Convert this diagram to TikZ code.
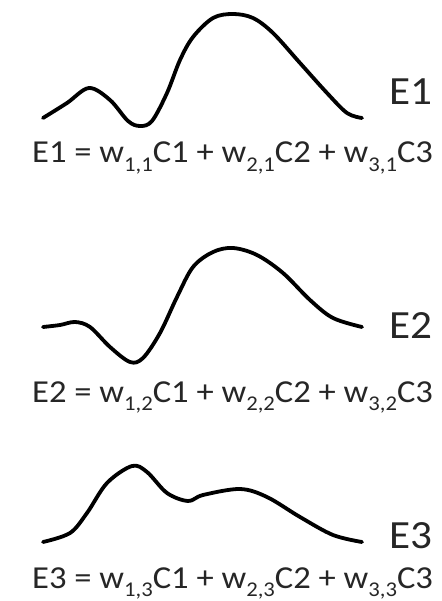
\documentclass[tikz,border=0pt]{standalone}
\usepackage{fontspec}
\setmainfont[FakeStretch=1.08]{Carlito}
\definecolor{txt}{HTML}{262626}
\newcommand{\wsub}[1]{\raisebox{-0.28em}{\fontsize{21}{21}\selectfont #1}}
\begin{document}
\begin{tikzpicture}[x=1pt,y=-1pt,
  curve/.style={line width=3.8pt, line cap=round, line join=round, black},
  eqn/.style={inner sep=0pt, anchor=base west, text=txt, font=\fontsize{32}{32}\selectfont},
  lbl/.style={inner sep=0pt, anchor=base west, text=txt, font=\fontsize{40}{40}\selectfont}]
\useasboundingbox (0,0) rectangle (441,601);
% curves
\draw[curve] plot[smooth, tension=0.55] coordinates {(43,118) (67,103) (89,88) (110,100) (128,121) (140,126) (152,121) (167,93) (180,60) (193,37) (213,18) (233,14) (253,18) (273,33) (300,63) (327,93) (347,113) (362,118)};
\draw[curve] plot[smooth, tension=0.55] coordinates {(43,327) (60,325) (75,322) (90,327) (110,347) (130,362) (143,358) (160,333) (177,297) (193,267) (213,252) (233,248) (257,255) (283,273) (310,300) (333,318) (362,327)};
\draw[curve] plot[smooth, tension=0.55] coordinates {(43,542) (70,533) (87,513) (107,483) (132,466) (147,472) (167,493) (188,501) (203,495) (240,489) (267,497) (300,517) (333,535) (362,542)};
% labels
\node[lbl] (l1) at (389,105) {E1};
\node[lbl] (l2) at (389,338) {E2};
\node[lbl] (l3) at (389,548) {E3};
% equations
\node[eqn] (e1) at (32,163) {E1 = w\wsub{1,1}C1 + w\wsub{2,1}C2 + w\wsub{3,1}C3};
\node[eqn] (e2) at (32,402) {E2 = w\wsub{1,2}C1 + w\wsub{2,2}C2 + w\wsub{3,2}C3};
\node[eqn] (e3) at (32,588) {E3 = w\wsub{1,3}C1 + w\wsub{2,3}C2 + w\wsub{3,3}C3};
\end{tikzpicture}
\end{document}
